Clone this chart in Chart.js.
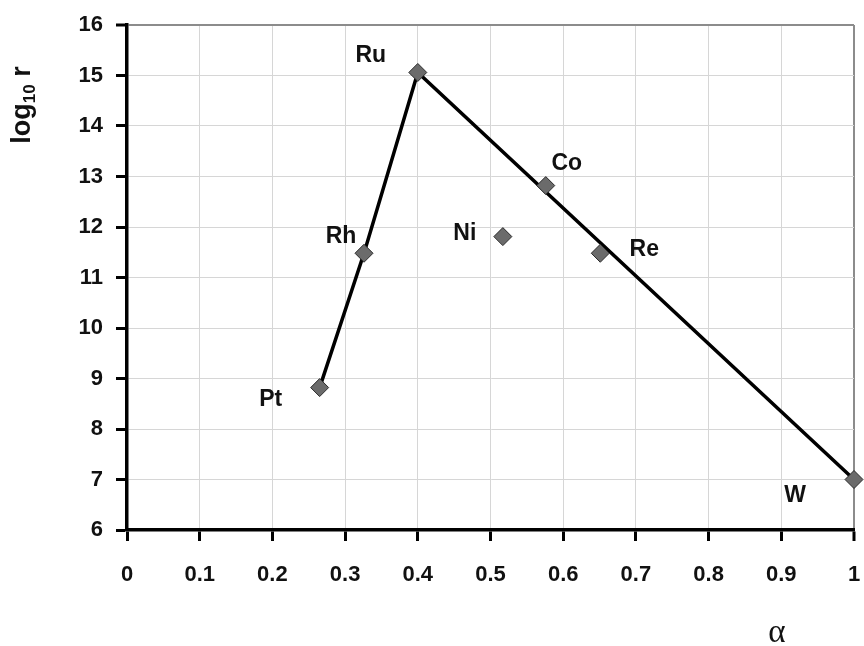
<!DOCTYPE html>
<html>
<head>
<meta charset="utf-8">
<title>log10 r vs alpha</title>
<script src="https://cdn.jsdelivr.net/npm/chart.js@4.4.1/dist/chart.umd.min.js"></script>
<style>
  html, body { margin: 0; padding: 0; background: #fff; }
  #wrap { width: 864px; height: 646px; }
</style>
</head>
<body>
<div id="wrap"><canvas id="chart" width="864" height="646"></canvas></div>
<script>
// values
const metals = ['Pt', 'Rh', 'Ru', 'Ni', 'Co', 'Re', 'W'];
const alphaValues = [0.265, 0.326, 0.400, 0.517, 0.576, 0.651, 1.0];
const logRValues = [8.82, 11.48, 15.06, 11.81, 12.82, 11.48, 7.0];
// the black line goes through these metals, in this order
const lineMetals = ['Pt', 'Rh', 'Ru', 'W'];

const xTickLabels = ['0', '0.1', '0.2', '0.3', '0.4', '0.5', '0.6', '0.7', '0.8', '0.9', '1'];
const yTickLabels = ['6', '7', '8', '9', '10', '11', '12', '13', '14', '15', '16'];

// where each name sits next to its marker (pixels)
const labelOffsets = {
    Pt: [-49, 12], Rh: [-23, -17], Ru: [-47, -17], Ni: [-38, -3],
    Co: [21, -22], Re: [44, -4], W: [-59, 16]
};

const FAMILY = '"Liberation Sans", Arial, sans-serif';

const markerPoints = metals.map((m, i) => ({ x: alphaValues[i], y: logRValues[i] }));
const linePoints = lineMetals.map(m => {
    const i = metals.indexOf(m);
    return { x: alphaValues[i], y: logRValues[i] };
});

const textPlugin = {
    id: 'textPlugin',
    afterDatasetsDraw(chart) {
        const ctx = chart.ctx;
        const xs = chart.scales.x, ys = chart.scales.y;
        ctx.save();
        ctx.fillStyle = '#111';
        ctx.font = 'bold 23px ' + FAMILY;
        ctx.textAlign = 'center';
        ctx.textBaseline = 'middle';
        metals.forEach((m, i) => {
            const off = labelOffsets[m];
            ctx.fillText(m, xs.getPixelForValue(alphaValues[i]) + off[0], ys.getPixelForValue(logRValues[i]) + off[1]);
        });

        // y title: log10 r, rotated
        ctx.save();
        ctx.translate(23, 105);
        ctx.rotate(-Math.PI / 2);
        ctx.textAlign = 'left';
        ctx.textBaseline = 'middle';
        const big = 'bold 27px ' + FAMILY;
        const small = 'bold 17px ' + FAMILY;
        ctx.font = big;
        const w1 = ctx.measureText('log').width;
        ctx.font = small;
        const w2 = ctx.measureText('10').width;
        ctx.font = big;
        const w3 = ctx.measureText(' r').width;
        let x0 = -(w1 + w2 + w3) / 2;
        ctx.fillText('log', x0, 0);
        ctx.font = small;
        ctx.fillText('10', x0 + w1, 7);
        ctx.font = big;
        ctx.fillText(' r', x0 + w1 + w2, 0);
        ctx.restore();

        // x title
        ctx.font = '33px "Liberation Serif", "Times New Roman", serif';
        ctx.textAlign = 'center';
        ctx.fillText('\u03b1', 777, 633);
        ctx.restore();
    }
};

const gridColor = (edgeValue) => (c) => (c.tick && Math.abs(c.tick.value - edgeValue) < 1e-6) ? '#8c8c8c' : '#d6d6d6';
const gridWidth = (edgeValue) => (c) => (c.tick && Math.abs(c.tick.value - edgeValue) < 1e-6) ? 2 : 1;

new Chart(document.getElementById('chart'), {
    type: 'scatter',
    data: {
        datasets: [
            {
                label: 'metals',
                data: markerPoints,
                showLine: false,
                clip: false,
                pointStyle: 'rectRot',
                pointRadius: 9,
                pointBackgroundColor: '#6b6b6b',
                pointBorderColor: '#2a2a2a',
                pointBorderWidth: 1
            },
            {
                label: 'line',
                data: linePoints,
                showLine: true,
                clip: false,
                borderColor: '#000',
                borderWidth: 3.5,
                pointRadius: 0,
                tension: 0
            }
        ]
    },
    options: {
        responsive: false,
        animation: false,
        layout: { padding: { top: 25, right: 5, left: 0, bottom: 0 } },
        plugins: { legend: { display: false }, tooltip: { enabled: false } },
        scales: {
            x: {
                type: 'linear',
                min: 0, max: 1,
                afterFit: s => { s.height = 116; s.paddingRight = 0; s.paddingLeft = 0; },
                ticks: {
                    stepSize: 0.1,
                    padding: 21,
                    color: '#111',
                    font: { family: FAMILY, size: 22, weight: 'bold' },
                    callback: (v, i) => xTickLabels[i],
                    maxRotation: 0, autoSkip: false
                },
                grid: {
                    color: gridColor(1), lineWidth: gridWidth(1),
                    tickColor: '#000', tickWidth: 3, tickLength: 11
                },
                border: { color: '#000', width: 3.5 }
            },
            y: {
                type: 'linear',
                min: 6, max: 16,
                afterFit: s => { s.width = 127; s.paddingTop = 0; s.paddingBottom = 0; },
                ticks: {
                    stepSize: 1,
                    padding: 13,
                    color: '#111',
                    font: { family: FAMILY, size: 22, weight: 'bold' },
                    callback: (v, i) => yTickLabels[i],
                    autoSkip: false
                },
                grid: {
                    color: gridColor(16), lineWidth: gridWidth(16),
                    tickColor: '#000', tickWidth: 3, tickLength: 11
                },
                border: { color: '#000', width: 3.5 }
            }
        }
    },
    plugins: [textPlugin]
});
</script>
</body>
</html>
